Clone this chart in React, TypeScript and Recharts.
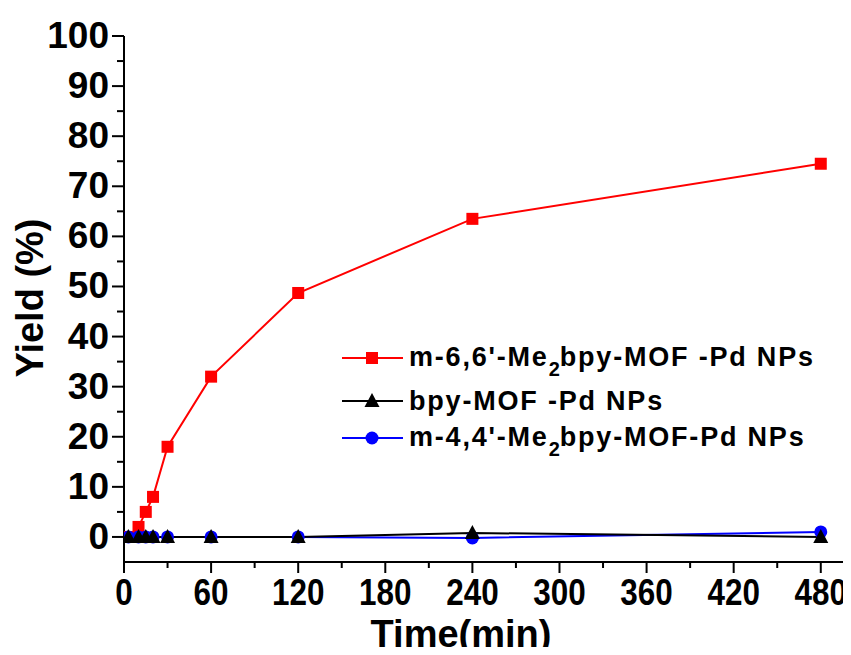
import React from 'react';
import { LineChart, Line, XAxis, YAxis } from 'recharts';

const times = [3, 10, 15, 20, 30, 60, 120, 240, 480];
const me66 = [0, 2, 5, 8, 18, 32, 48.7, 63.5, 74.5];
const bpy = [0, 0, 0, 0, 0, 0, 0, 0.8, 0];
const me44 = [0, 0, 0, 0, 0, 0, 0, -0.2, 1];

const xTicks = [0, 30, 60, 90, 120, 150, 180, 210, 240, 270, 300, 330, 360, 390, 420, 450, 480];
const yTicks = [0, 5, 10, 15, 20, 25, 30, 35, 40, 45, 50, 55, 60, 65, 70, 75, 80, 85, 90, 95, 100];

const data = times.map((t, i) => ({ time: t, me66: me66[i], bpy: bpy[i], me44: me44[i] }));

const FONT = '"Liberation Sans", Arial, Helvetica, sans-serif';

const XTick = (props: any) => {
  const { x, y, payload } = props;
  const major = payload.value % 60 === 0;
  return (
    <g>
      <line x1={x} x2={x} y1={y} y2={y + (major ? 11 : 6)} stroke="#000" strokeWidth={2} />
      {major && (
        <text
          transform={`translate(${x},${y + 43}) scale(0.85,1)`}
          textAnchor="middle"
          fontFamily={FONT}
          fontWeight="bold"
          fontSize={37}
          fill="#000"
        >
          {payload.value}
        </text>
      )}
    </g>
  );
};

const YTick = (props: any) => {
  const { x, y, payload } = props;
  const major = payload.value % 10 === 0;
  return (
    <g>
      <line x1={x - (major ? 12 : 7)} x2={x} y1={y} y2={y} stroke="#000" strokeWidth={2} />
      {major && (
        <text x={x - 15} y={y + 12} textAnchor="end" fontFamily={FONT} fontWeight="bold" fontSize={37} fill="#000">
          {payload.value}
        </text>
      )}
    </g>
  );
};

const RTick = (props: any) => {
  const { x, y } = props;
  return <line x1={x - 4} x2={x} y1={y} y2={y} stroke="#000" strokeWidth={2} />;
};

const TTick = (props: any) => {
  const { x, y } = props;
  return <line x1={x} x2={x} y1={y} y2={y + 3} stroke="#000" strokeWidth={2} />;
};

const Square = (props: any) => {
  const { cx, cy, index } = props;
  return <rect key={`s${index}`} x={cx - 6} y={cy - 6} width={12} height={12} fill="#ff0000" />;
};
const Tri = (props: any) => {
  const { cx, cy, index } = props;
  return <path key={`t${index}`} d={`M${cx},${cy - 8} L${cx + 7.5},${cy + 6} L${cx - 7.5},${cy + 6} Z`} fill="#000" />;
};
const Circ = (props: any) => {
  const { cx, cy, index } = props;
  return <circle key={`c${index}`} cx={cx} cy={cy} r={6.5} fill="#0000ff" />;
};

const legendItems = [
  { color: '#ff0000', shape: 'square', pre: "m-6,6'-Me", sub: '2', post: 'bpy-MOF -Pd NPs', top: 358 },
  { color: '#000000', shape: 'tri', pre: 'bpy-MOF -Pd NPs', sub: '', post: '', top: 401 },
  { color: '#0000ff', shape: 'circle', pre: "m-4,4'-Me", sub: '2', post: 'bpy-MOF-Pd NPs', top: 438 },
];

const LegendOverlay = () => (
  <div style={{ position: 'absolute', left: 0, top: 0, fontFamily: FONT, fontWeight: 'bold', fontSize: 27, letterSpacing: 1.8, color: '#000' }}>
    {legendItems.map((it, i) => (
      <div
        key={i}
        style={{ position: 'absolute', left: 342, top: it.top - 20, height: 40, display: 'flex', alignItems: 'center', whiteSpace: 'nowrap' }}
      >
        <svg width={61} height={20} style={{ marginRight: 6, flex: 'none' }}>
          <line x1={0} x2={61} y1={10} y2={10} stroke={it.color} strokeWidth={2} />
          {it.shape === 'square' && <rect x={24} y={4} width={12} height={12} fill={it.color} />}
          {it.shape === 'tri' && <path d="M30,2 L37.5,16 L22.5,16 Z" fill={it.color} />}
          {it.shape === 'circle' && <circle cx={30} cy={10} r={6.5} fill={it.color} />}
        </svg>
        <span style={{ lineHeight: '40px' }}>
          {it.pre}
          {it.sub && <span style={{ fontSize: 20, position: 'relative', top: 10, letterSpacing: 0 }}>{it.sub}</span>}
          {it.post}
        </span>
      </div>
    ))}
  </div>
);

export default function App() {
  return (
    <div style={{ margin: -8, width: 851, height: 655, background: '#fff', position: 'relative' }}>
      <LineChart width={851} height={655} data={data} margin={{ top: 36, right: 7, bottom: 0, left: 0 }}>
        <XAxis
          dataKey="time"
          type="number"
          domain={[0, 496]}
          ticks={xTicks}
          interval={0}
          tickSize={0}
          tickMargin={0}
          tickLine={false}
          tick={<XTick />}
          height={93}
          axisLine={{ stroke: '#000', strokeWidth: 2 }}
          allowDataOverflow
        />
        <XAxis
          xAxisId="t"
          orientation="top"
          type="number"
          domain={[0, 496]}
          ticks={xTicks}
          interval={0}
          tickSize={0}
          tickMargin={0}
          tickLine={false}
          tick={<TTick />}
          height={0}
          axisLine={{ stroke: '#000', strokeWidth: 2 }}
        />
        <YAxis
          type="number"
          domain={[-5, 100]}
          ticks={yTicks}
          interval={0}
          tickSize={0}
          tickMargin={0}
          tickLine={false}
          tick={<YTick />}
          width={124}
          axisLine={{ stroke: '#000', strokeWidth: 2 }}
          allowDataOverflow
        />
        <YAxis
          yAxisId="r"
          orientation="right"
          type="number"
          domain={[-5, 100]}
          ticks={yTicks}
          interval={0}
          tickSize={0}
          tickMargin={0}
          tickLine={false}
          tick={<RTick />}
          width={0}
          axisLine={{ stroke: '#000', strokeWidth: 2 }}
        />
        <Line dataKey="me66" stroke="#ff0000" strokeWidth={2} dot={<Square />} isAnimationActive={false} />
        <Line dataKey="me44" stroke="#0000ff" strokeWidth={2} dot={<Circ />} isAnimationActive={false} />
        <Line dataKey="bpy" stroke="#000000" strokeWidth={2} dot={<Tri />} isAnimationActive={false} />
        <text x={461} y={647} textAnchor="middle" fontFamily={FONT} fontWeight="bold" fontSize={38} fill="#000">
          Time(min)
        </text>
        <text
          x={43}
          y={298}
          textAnchor="middle"
          transform="rotate(-90 43 298)"
          fontFamily={FONT}
          fontWeight="bold"
          fontSize={38}
          fill="#000"
        >
          Yield (%)
        </text>
      </LineChart>
      <LegendOverlay />
    </div>
  );
}
